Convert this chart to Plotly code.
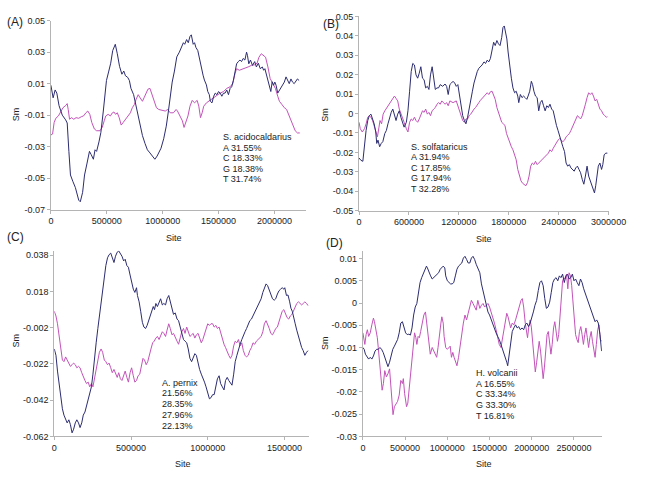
import plotly.graph_objects as go

# ---------------- data (site in kb, Sm value) ----------------
A_NAVY = [(0,0.009),(20,0.001),(38,0.006),(53,0.004),(73,-0.004),(102,-0.010),(132,-0.013),(146,-0.015),
(161,-0.033),(175,-0.048),(196,-0.052),(219,-0.056),(249,-0.064),(263,-0.065),(284,-0.059),(301,-0.048),
(322,-0.041),(345,-0.033),(360,-0.035),(380,-0.038),(395,-0.032),(409,-0.033),(430,-0.027),(447,-0.021),
(468,-0.008),(482,0.004),(497,0.012),(518,0.018),(535,0.023),(553,0.031),(576,0.035),(594,0.029),
(614,0.021),(635,0.016),(652,0.018),(667,0.015),(687,0.014),(702,0.012),(716,0.007),(740,0.003),
(760,-0.004),(790,-0.013),(819,-0.023),(842,-0.028),(863,-0.032),(886,-0.034),(906,-0.036),(930,-0.038),
(950,-0.036),(965,-0.034),(985,-0.031),(1009,-0.025),(1032,-0.017),(1050,-0.008),(1067,0.002),(1085,0.011),
(1105,0.018),(1126,0.027),(1149,0.030),(1167,0.033),(1185,0.036),(1197,0.035),(1214,0.038),(1229,0.036),
(1244,0.040),(1256,0.041),(1273,0.035),(1285,0.036),(1297,0.033),(1314,0.031),(1326,0.027),(1338,0.0216),
(1353,0.0164),(1361,0.0154),(1373,0.0123),(1391,0.0092),(1403,0.005),(1417,0.003),(1426,-0.0012),(1441,-0.0022),
(1456,0.002),(1470,0.004),(1485,0.003),(1500,0.005),(1514,0.004),(1529,0.002),(1544,0.004),(1558,0.004),
(1573,0.006),(1588,0.003),(1603,0.007),(1617,0.008),(1632,0.012),(1647,0.0185),(1661,0.0226),(1676,0.024),
(1691,0.025),(1705,0.024),(1720,0.026),(1735,0.025),(1750,0.030),(1758,0.028),(1770,0.0226),(1785,0.025),
(1803,0.0216),(1823,0.024),(1838,0.0206),(1855,0.023),(1873,0.0195),(1891,0.0206),(1903,0.0185),(1914,0.0195),
(1932,0.0143),(1944,0.012),(1955,0.009),(1967,0.005),(1979,0.0112),(1991,0.009),(2003,0.011),(2014,0.009),
(2029,0.004),(2044,0.006),(2058,0.007),(2073,0.009),(2088,0.011),(2103,0.0143),(2117,0.012),(2132,0.010),
(2147,0.013),(2161,0.011),(2176,0.010),(2191,0.012),(2205,0.013),(2220,0.012)]

A_MAG = [(0,-0.0226),(15,-0.022),(29,-0.0147),(44,-0.012),(67,-0.0105),(88,-0.0074),(108,-0.0053),(132,-0.0039),
(146,-0.0027),(155,-0.0064),(167,-0.0126),(184,-0.0116),(205,-0.0126),(225,-0.0116),(249,-0.012),(272,-0.011),
(292,-0.0105),(313,-0.0085),(330,-0.0074),(348,-0.0095),(366,-0.0147),(389,-0.0188),(409,-0.0199),(439,-0.0199),
(459,-0.0178),(477,-0.0136),(491,-0.0105),(512,-0.0095),(532,-0.0105),(550,-0.0085),(564,-0.008),(579,-0.0095),
(594,-0.0085),(611,-0.0116),(629,-0.0163),(646,-0.0147),(664,-0.013),(687,-0.0105),(711,-0.0085),(728,-0.0053),
(746,-0.0033),(763,0.0002),(781,0.003),(798,0.001),(819,-0.0012),(833,0.001),(851,0.004),(868,0.0065),
(886,0.007),(901,0.004),(921,-0.0002),(944,-0.0053),(965,-0.0064),(994,-0.0068),(1023,-0.0074),(1044,-0.0064),
(1067,-0.0085),(1096,-0.0085),(1120,-0.0064),(1132,-0.0074),(1156,-0.0105),(1176,-0.0136),(1191,-0.0178),(1206,-0.0147),
(1226,-0.0105),(1244,-0.0043),(1264,-0.0006),(1285,-0.0022),(1308,-0.0006),(1323,-0.0043),(1338,-0.0116),(1353,-0.0085),
(1367,-0.0043),(1391,-0.0022),(1411,-0.0012),(1426,-0.0006),(1450,0.001),(1470,0.002),(1491,0.003),(1514,0.004),
(1544,0.005),(1573,0.007),(1603,0.008),(1626,0.010),(1647,0.0164),(1661,0.0195),(1685,0.0185),(1705,0.019),
(1735,0.0195),(1764,0.0206),(1794,0.0216),(1823,0.022),(1844,0.023),(1861,0.0268),(1882,0.029),(1903,0.028),
(1920,0.0268),(1941,0.0206),(1961,0.0133),(1985,0.010),(2008,0.007),(2029,0.002),(2044,-0.0012),(2067,-0.0033),
(2088,-0.0053),(2108,-0.0064),(2132,-0.0105),(2147,-0.0126),(2167,-0.0168),(2185,-0.0199),(2205,-0.0213),(2226,-0.0213)]

B_NAVY = [(0,-0.0229),(23,-0.0241),(46,-0.0246),(66,-0.0154),(85,-0.0087),(105,-0.0036),(124,-0.0011),(143,-0.0003),
(163,-0.0028),(182,-0.0053),(201,-0.0095),(213,-0.0154),(228,-0.0137),(248,-0.0171),(267,-0.0154),(286,-0.0145),
(310,-0.0103),(329,-0.0087),(348,-0.0053),(368,-0.0019),(387,0.0006),(406,0.0023),(426,-0.0003),(445,-0.0036),
(465,-0.0003),(484,0.0014),(503,-0.0019),(523,-0.0045),(542,-0.007),(569,-0.0045),(588,0.0014),(608,0.0115),
(627,0.0216),(646,0.0258),(666,0.025),(685,0.0199),(705,0.0182),(724,0.0208),(743,0.0241),(763,0.0182),
(782,0.0174),(801,0.0132),(821,0.014),(840,0.0124),(859,0.0199),(879,0.0241),(898,0.0191),(917,0.0124),
(937,0.0132),(956,0.0132),(976,0.0149),(1006,0.014),(1034,0.0152),(1053,0.014),(1072,0.0098),(1092,0.0149),
(1111,0.0157),(1130,0.0166),(1150,0.0157),(1169,0.014),(1188,0.0149),(1208,0.0098),(1227,0.0031),(1246,-0.0011),
(1266,-0.0036),(1285,-0.0053),(1305,-0.0019),(1324,0.0031),(1343,0.0073),(1363,0.0115),(1382,0.0157),(1401,0.0191),
(1421,0.0216),(1440,0.0233),(1459,0.0241),(1479,0.025),(1502,0.0266),(1521,0.0258),(1541,0.0275),(1560,0.0266),
(1579,0.0283),(1599,0.0334),(1618,0.0367),(1637,0.035),(1657,0.0376),(1676,0.0359),(1695,0.035),(1715,0.0392),
(1730,0.0443),(1746,0.0451),(1761,0.0418),(1777,0.0384),(1792,0.0317),(1812,0.0233),(1831,0.0182),(1850,0.0132),
(1870,0.0107),(1889,0.0115),(1908,0.009),(1920,0.0056),(1939,0.0098),(1959,0.0082),(1978,0.009),(1997,0.0082),
(2017,0.0073),(2032,0.009),(2052,0.0115),(2071,0.0166),(2086,0.0149),(2102,0.0115),(2121,0.009),(2141,0.0082),
(2160,0.0014),(2179,0.0056),(2199,0.0068),(2218,0.004),(2237,0.0014),(2257,0.004),(2276,0.0031),(2295,0.0048),
(2315,0.0023),(2334,0.0014),(2354,-0.0028),(2373,-0.0061),(2392,-0.0087),(2412,-0.0112),(2431,-0.0145),(2450,-0.0171),
(2470,-0.0196),(2489,-0.0255),(2508,-0.0271),(2528,-0.0263),(2547,-0.028),(2566,-0.0288),(2586,-0.0297),(2605,-0.028),
(2625,-0.0271),(2644,-0.0288),(2663,-0.0305),(2683,-0.0339),(2702,-0.0364),(2721,-0.0322),(2741,-0.0271),(2760,-0.0322),
(2779,-0.0347),(2799,-0.0364),(2818,-0.0397),(2830,-0.0409),(2845,-0.0372),(2860,-0.0305),(2876,-0.0271),(2895,-0.0255),
(2915,-0.0288),(2930,-0.0263),(2946,-0.0213),(2965,-0.0204),(2985,-0.0204)]

B_MAG = [(0,-0.0045),(15,-0.0078),(39,-0.0095),(66,-0.0078),(85,-0.0053),(105,-0.0019),(124,-0.0011),(143,-0.0019),
(163,-0.0036),(182,-0.0061),(201,-0.0087),(221,-0.012),(240,-0.007),(252,-0.0036),(271,-0.0053),(290,-0.0003),
(310,0.0014),(337,0.0031),(356,0.0048),(375,0.0056),(403,0.0073),(426,0.009),(445,0.0078),(465,0.0065),
(484,0.0023),(503,-0.0003),(523,-0.0019),(542,-0.0045),(569,-0.0078),(588,-0.0095),(608,-0.0045),(627,-0.0028),
(646,-0.0036),(666,-0.0019),(685,-0.0036),(705,-0.0045),(724,-0.0028),(743,-0.0011),(763,0.0014),(782,0.0006),
(801,0.0023),(821,-0.0003),(840,0.0006),(859,-0.0011),(879,0.0014),(898,0.0023),(917,0.0031),(937,0.0048),
(956,0.0056),(976,0.0048),(995,0.0065),(1014,0.0056),(1034,0.0048),(1053,0.0056),(1072,0.004),(1092,0.0065),
(1130,0.0056),(1169,0.0065),(1188,0.004),(1208,0.0014),(1227,-0.0019),(1246,-0.0036),(1266,-0.0045),(1285,-0.0028),
(1305,-0.0028),(1324,-0.0011),(1343,-0.0003),(1363,0.0014),(1382,0.0023),(1401,0.0031),(1421,0.0048),(1440,0.0056),
(1459,0.0068),(1479,0.0078),(1502,0.009),(1521,0.0098),(1541,0.0107),(1560,0.0098),(1579,0.0112),(1599,0.0115),
(1618,0.0098),(1637,0.0073),(1657,0.0031),(1676,0.0006),(1695,-0.0019),(1715,-0.0045),(1734,-0.0053),(1754,-0.0061),
(1773,-0.0103),(1792,-0.0129),(1812,-0.0154),(1831,-0.0171),(1850,-0.0187),(1870,-0.0213),(1889,-0.0238),(1908,-0.0288),
(1928,-0.0322),(1947,-0.0347),(1966,-0.0359),(1986,-0.0364),(2005,-0.0372),(2025,-0.0356),(2044,-0.0322),(2063,-0.0271),
(2083,-0.0255),(2102,-0.0263),(2121,-0.0246),(2141,-0.0263),(2160,-0.0255),(2179,-0.0246),(2199,-0.0238),(2218,-0.0229),
(2237,-0.0221),(2257,-0.0213),(2276,-0.0204),(2295,-0.0187),(2315,-0.0196),(2334,-0.0179),(2354,-0.0162),(2373,-0.0145),
(2392,-0.0137),(2412,-0.0129),(2431,-0.0137),(2450,-0.0145),(2470,-0.0137),(2489,-0.012),(2508,-0.0112),(2528,-0.0103),
(2547,-0.0087),(2566,-0.007),(2586,-0.0053),(2605,-0.0028),(2625,-0.0011),(2644,-0.0019),(2663,-0.0028),(2683,-0.0011),
(2702,0.0014),(2721,0.0048),(2741,0.0082),(2760,0.0107),(2779,0.0098),(2799,0.0107),(2818,0.009),(2837,0.0065),
(2857,0.0073),(2876,0.0048),(2895,0.0023),(2915,0.0014),(2934,-0.0003),(2954,-0.0011),(2973,-0.0019),(2985,-0.0016)]

C_NAVY = [(0,-0.0137),(11,-0.0172),(21,-0.0259),(32,-0.0328),(42,-0.0415),(53,-0.0467),(63,-0.0502),(74,-0.0528),
(84,-0.0545),(95,-0.0528),(105,-0.0554),(116,-0.0600),(126,-0.058),(137,-0.0545),(147,-0.0528),(158,-0.0545),
(168,-0.0571),(179,-0.0545),(189,-0.0502),(200,-0.0485),(210,-0.045),(221,-0.0415),(231,-0.038),(242,-0.0346),
(252,-0.0276),(263,-0.0172),(273,-0.0103),(284,-0.0024),(294,0.0045),(305,0.0114),(315,0.0193),(326,0.0262),
(336,0.0323),(347,0.0366),(357,0.0383),(368,0.0392),(378,0.0366),(389,0.034),(399,0.0375),(410,0.0397),
(420,0.0404),(431,0.0392),(441,0.0375),(452,0.0349),(462,0.0358),(473,0.0323),(483,0.0314),(494,0.0271),
(504,0.0227),(515,0.0193),(525,0.0175),(536,0.0201),(542,0.0158),(553,0.0123),(563,0.0071),(574,0.001),
(584,-0.0016),(595,-0.0024),(605,-0.0007),(616,0.0019),(626,0.0054),(637,0.008),(645,0.0097),(653,0.008),
(662,0.0114),(672,0.0097),(683,0.0123),(693,0.014),(704,0.0106),(714,0.0114),(725,0.0106),(735,0.014),
(746,0.0158),(756,0.0123),(767,0.008),(777,0.0054),(788,0.0062),(800,0.0028),(810,0.0019),(821,-0.0016),
(831,-0.0059),(842,-0.0085),(852,-0.0094),(863,-0.0103),(873,-0.0137),(884,-0.0189),(895,-0.0207),(905,-0.0181),
(916,-0.0163),(926,-0.0172),(937,-0.0224),(947,-0.025),(958,-0.0276),(968,-0.0294),(979,-0.032),(989,-0.0346),
(1000,-0.038),(1011,-0.0412),(1021,-0.0406),(1032,-0.0389),(1042,-0.0389),(1053,-0.0346),(1063,-0.0302),(1074,-0.0285),
(1084,-0.0328),(1095,-0.0346),(1106,-0.0363),(1116,-0.0311),(1127,-0.0294),(1137,-0.0311),(1148,-0.0328),(1158,-0.0337),
(1169,-0.0276),(1179,-0.0207),(1190,-0.0172),(1200,-0.0137),(1211,-0.0111),(1222,-0.0085),(1232,-0.0059),(1243,-0.0042),
(1253,-0.0024),(1264,0.0002),(1274,0.0019),(1285,0.0028),(1295,0.0045),(1306,0.0062),(1317,0.0088),(1327,0.0106),
(1338,0.0123),(1348,0.014),(1359,0.0175),(1369,0.0201),(1380,0.0222),(1390,0.0213),(1401,0.0184),(1411,0.0158),
(1422,0.014),(1433,0.0132),(1443,0.014),(1454,0.0166),(1464,0.0184),(1475,0.0193),(1485,0.0201),(1496,0.0193),
(1502,0.0201),(1513,0.0158),(1523,0.0161),(1534,0.0123),(1542,0.0088),(1551,0.0071),(1559,0.0036),(1570,0.0002),
(1580,-0.0033),(1591,-0.0068),(1601,-0.0103),(1612,-0.0129),(1622,-0.0146),(1633,-0.0172),(1644,-0.0155),(1654,-0.0146)]

C_MAG = [(0,0.0071),(11,0.0045),(21,0.0002),(32,-0.0068),(42,-0.0137),(53,-0.0198),(63,-0.0207),(74,-0.0181),
(84,-0.0198),(95,-0.0215),(105,-0.0233),(116,-0.0224),(126,-0.0215),(137,-0.0224),(147,-0.0241),(158,-0.0233),
(168,-0.0241),(179,-0.0268),(189,-0.0294),(200,-0.0311),(210,-0.0328),(221,-0.032),(231,-0.0346),(242,-0.0328),
(252,-0.0346),(263,-0.0294),(273,-0.0241),(284,-0.0189),(294,-0.0155),(305,-0.0137),(315,-0.0155),(326,-0.0198),
(336,-0.0207),(347,-0.0224),(357,-0.0215),(368,-0.0241),(378,-0.0268),(389,-0.025),(399,-0.0276),(410,-0.0294),
(420,-0.0268),(431,-0.0302),(441,-0.0311),(452,-0.0276),(462,-0.0259),(473,-0.0294),(483,-0.032),(494,-0.0268),
(504,-0.0241),(515,-0.0285),(525,-0.032),(536,-0.0311),(546,-0.0285),(557,-0.0276),(567,-0.0233),(578,-0.0189),
(588,-0.0198),(599,-0.0224),(609,-0.0207),(620,-0.0163),(630,-0.0137),(641,-0.0103),(651,-0.0094),(662,-0.0077),
(672,-0.0068),(683,-0.0085),(693,-0.0059),(704,-0.0042),(714,-0.0051),(725,-0.0068),(735,-0.0033),(746,0.0002),
(756,-0.0024),(767,-0.0059),(777,-0.0051),(788,-0.0068),(800,-0.0094),(810,-0.0111),(821,-0.0077),(831,-0.0042),
(842,-0.0024),(852,-0.0051),(863,-0.0016),(873,-0.0042),(884,-0.0068),(895,-0.0059),(905,-0.0051),(916,-0.0077),
(926,-0.0059),(937,-0.0051),(947,-0.0077),(958,-0.0103),(968,-0.0085),(979,-0.0051),(989,-0.0024),(1000,0.0002),
(1011,-0.0007),(1021,0.0002),(1032,0.0002),(1042,-0.0016),(1053,-0.0007),(1063,-0.0024),(1074,-0.0016),(1084,-0.0051),
(1095,-0.0085),(1106,-0.0111),(1116,-0.0129),(1127,-0.0155),(1137,-0.0172),(1148,-0.0189),(1158,-0.0172),(1169,-0.012),
(1179,-0.0094),(1190,-0.0103),(1200,-0.0085),(1211,-0.012),(1222,-0.0103),(1232,-0.0146),(1243,-0.0172),(1253,-0.0181),
(1264,-0.0172),(1274,-0.0146),(1285,-0.0129),(1295,-0.0103),(1306,-0.0111),(1317,-0.0094),(1327,-0.0085),(1338,-0.0077),
(1348,-0.0068),(1359,-0.0042),(1369,0.0002),(1380,0.0019),(1390,0.0002),(1401,-0.0024),(1411,-0.0051),(1422,-0.0059),
(1433,-0.0042),(1443,-0.0024),(1454,-0.0016),(1464,0.001),(1475,0.0045),(1485,0.0071),(1496,0.008),(1506,0.0062),
(1517,0.0036),(1528,0.0028),(1538,0.0045),(1549,0.0054),(1559,0.0071),(1570,0.0097),(1580,0.0114),(1591,0.0123),
(1601,0.0114),(1612,0.0106),(1622,0.0114),(1633,0.0123),(1644,0.0114),(1654,0.0102)]

D_NAVY = [(0,-0.010),(15,-0.0104),(30,-0.0115),(49,-0.0122),(68,-0.0126),(87,-0.0122),(106,-0.0126),(125,-0.0119),
(144,-0.0108),(163,-0.0104),(182,-0.0104),(202,-0.010),(221,-0.0104),(240,-0.0111),(259,-0.0122),(278,-0.0133),
(297,-0.0143),(316,-0.0133),(335,-0.0119),(354,-0.0104),(373,-0.0097),(392,-0.0089),(411,-0.0082),(430,-0.0067),
(449,-0.0045),(468,-0.0042),(487,-0.0056),(506,-0.0067),(525,-0.0071),(544,-0.007),(563,-0.0072),(582,-0.0056),
(601,-0.0027),(620,-0.0009),(639,-0.0001),(658,0.0021),(677,0.0046),(696,0.0057),(715,0.0065),(734,0.0072),
(753,0.0083),(764,0.0079),(783,0.0068),(802,0.0061),(821,0.0054),(840,0.0057),(859,0.0061),(878,0.0065),
(897,0.0068),(916,0.0076),(935,0.0079),(951,0.0083),(970,0.0079),(981,0.0061),(1000,0.005),(1019,0.0046),
(1038,0.0043),(1057,0.0043),(1076,0.0046),(1095,0.0061),(1114,0.0076),(1133,0.0083),(1152,0.0087),(1171,0.009),
(1190,0.0101),(1209,0.0105),(1228,0.0098),(1247,0.009),(1266,0.009),(1285,0.0101),(1304,0.0105),(1323,0.0098),
(1342,0.0087),(1361,0.0079),(1385,0.0068),(1404,0.0043),(1423,0.0028),(1442,0.0013),(1462,-0.0005),(1481,-0.002),
(1500,-0.0027),(1519,-0.0038),(1538,-0.0045),(1558,-0.0056),(1577,-0.0067),(1596,-0.0075),(1615,-0.0082),(1635,-0.0093),
(1654,-0.0104),(1673,-0.0111),(1692,-0.0122),(1704,-0.0133),(1715,-0.0141),(1731,-0.0115),(1750,-0.0086),(1769,-0.0064),
(1788,-0.0056),(1808,-0.0049),(1827,-0.0056),(1846,-0.0053),(1865,-0.006),(1885,-0.0056),(1904,-0.006),(1923,-0.0049),
(1942,-0.0045),(1962,-0.0053),(1981,-0.0045),(2000,-0.0034),(2019,-0.002),(2038,-0.0005),(2058,0.0006),(2077,0.0028),
(2096,0.0046),(2115,0.005),(2135,0.0039),(2154,0.001),(2173,-0.0012),(2192,-0.0009),(2212,0.0002),(2231,0.0024),
(2250,0.0046),(2269,0.0054),(2288,0.0057),(2308,0.005),(2327,0.0061),(2346,0.0057),(2365,0.0065),(2385,0.0046),
(2404,0.0061),(2423,0.0065),(2442,0.0054),(2462,0.0057),(2481,0.0065),(2500,0.005),(2519,0.0054),(2538,0.0046),
(2558,0.0039),(2577,0.0054),(2596,0.0046),(2615,0.0032),(2635,0.0021),(2654,0.001),(2673,-0.0001),(2692,-0.0012),
(2712,-0.0023),(2731,-0.0034),(2750,-0.0042),(2769,-0.0038),(2788,-0.0045),(2808,-0.0071),(2827,-0.0108)]

D_MAG = [(0,-0.0067),(11,-0.0082),(23,-0.0093),(38,-0.0071),(53,-0.006),(68,-0.0075),(87,-0.0067),(106,-0.0049),
(125,-0.0034),(137,-0.0042),(152,-0.0056),(171,-0.0078),(182,-0.010),(202,-0.0144),(213,-0.0174),(228,-0.0196),
(243,-0.0181),(259,-0.0152),(278,-0.0166),(297,-0.0159),(316,-0.0148),(335,-0.0196),(346,-0.0233),(357,-0.0251),
(373,-0.0233),(392,-0.0225),(411,-0.0221),(430,-0.0207),(449,-0.0174),(468,-0.0181),(479,-0.017),(494,-0.0203),
(517,-0.0233),(532,-0.0225),(547,-0.0196),(563,-0.0159),(582,-0.0122),(601,-0.0086),(612,-0.0067),(627,-0.0078),
(639,-0.0093),(654,-0.0075),(669,-0.0078),(684,-0.0064),(703,-0.0049),(722,-0.0027),(741,-0.002),(753,-0.0042),
(768,-0.0071),(783,-0.010),(798,-0.0115),(821,-0.010),(840,-0.0108),(859,-0.0119),(874,-0.0122),(890,-0.010),
(905,-0.0071),(924,-0.0045),(935,-0.0031),(951,-0.0045),(962,-0.0075),(981,-0.010),(1000,-0.0104),(1019,-0.010),
(1034,-0.0097),(1049,-0.0122),(1065,-0.0111),(1080,-0.0122),(1095,-0.0133),(1114,-0.0141),(1133,-0.0122),(1152,-0.0093),
(1171,-0.0071),(1190,-0.0045),(1209,-0.0027),(1228,-0.0038),(1247,-0.0023),(1266,-0.0009),(1285,0.0006),(1304,-0.0001),
(1323,-0.0009),(1342,-0.0016),(1361,0.0006),(1385,-0.0012),(1404,-0.0005),(1423,-0.0001),(1442,-0.0009),(1462,-0.0005),
(1481,-0.0001),(1500,-0.0009),(1519,-0.002),(1538,-0.0031),(1558,-0.0045),(1577,-0.006),(1596,-0.0075),(1615,-0.0093),
(1635,-0.010),(1654,-0.0078),(1673,-0.006),(1692,-0.0034),(1704,-0.0023),(1719,-0.0031),(1735,-0.0049),(1750,-0.0056),
(1769,-0.0045),(1788,-0.0049),(1808,-0.0038),(1827,-0.0023),(1846,-0.0012),(1858,-0.0005),(1873,0.0006),(1888,0.001),
(1904,-0.0009),(1923,-0.0045),(1935,-0.0067),(1950,-0.0078),(1965,-0.0053),(1981,-0.0038),(1996,-0.0056),(2012,-0.0093),
(2027,-0.0133),(2042,-0.0155),(2058,-0.0133),(2073,-0.010),(2088,-0.0086),(2104,-0.0108),(2119,-0.0144),(2135,-0.017),
(2150,-0.0144),(2165,-0.010),(2181,-0.0071),(2196,-0.0064),(2212,-0.0086),(2227,-0.0115),(2242,-0.0093),(2258,-0.0056),
(2273,-0.0042),(2288,-0.0064),(2304,-0.0086),(2319,-0.0071),(2335,-0.0027),(2350,0.0017),(2365,0.005),(2381,0.0057),
(2396,0.0054),(2412,0.0065),(2427,0.0032),(2442,0.0068),(2458,0.0061),(2473,0.0039),(2488,-0.0005),(2504,-0.0049),
(2519,-0.0071),(2535,-0.0082),(2550,-0.0089),(2565,-0.0064),(2581,-0.0053),(2596,-0.0071),(2612,-0.0093),(2627,-0.0071),
(2642,-0.0056),(2658,-0.0078),(2673,-0.010),(2688,-0.0078),(2704,-0.0064),(2719,-0.0086),(2735,-0.0108),(2750,-0.0122),
(2765,-0.0093),(2781,-0.006),(2796,-0.0049),(2812,-0.0082),(2827,-0.0086)]

A_YTICKS = [0.05, 0.03, 0.01, -0.01, -0.03, -0.05, -0.07]
A_YTEXT = ["0.05", "0.03", "0.01", "-0.01", "-0.03", "-0.05", "-0.07"]
A_XTICKS = [0, 500000, 1000000, 1500000, 2000000]
B_YTICKS = [0.05, 0.04, 0.03, 0.02, 0.01, 0, -0.01, -0.02, -0.03, -0.04, -0.05]
B_YTEXT = ["0.05", "0.04", "0.03", "0.02", "0.01", "0", "-0.01", "-0.02", "-0.03", "-0.04", "-0.05"]
B_XTICKS = [0, 600000, 1200000, 1800000, 2400000, 3000000]
C_YTICKS = [0.038, 0.018, -0.002, -0.022, -0.042, -0.062]
C_YTEXT = ["0.038", "0.018", "-0.002", "-0.022", "-0.042", "-0.062"]
C_XTICKS = [0, 500000, 1000000, 1500000]
D_YTICKS = [0.01, 0.005, 0, -0.005, -0.01, -0.015, -0.02, -0.025, -0.03]
D_YTEXT = ["0.01", "0.005", "0", "-0.005", "-0.01", "-0.015", "-0.02", "-0.025", "-0.03"]
D_XTICKS = [0, 500000, 1000000, 1500000, 2000000, 2500000]

A_INFO = ["S. acidocaldarius", "A 31.55%", "C 18.33%", "G 18.38%", "T 31.74%"]
B_INFO = ["S. solfataricus", "A 31.94%", "C 17.85%", "G 17.94%", "T 32.28%"]
C_INFO = ["A. pernix", "21.56%", "28.35%", "27.96%", "22.13%"]
D_INFO = ["H. volcanii", "A 16.55%", "C 33.34%", "G 33.30%", "T 16.81%"]
PANEL_LABELS = ["(A)", "(B)", "(C)", "(D)"]

# ---------------- layout ----------------
W, H = 645, 478
NAVY = "#2c2c70"
MAG = "#c253b9"
FONT = "Liberation Sans, Arial, sans-serif"
TXT = "#222222"
AX = "#b4b4b4"

def fx(px):
    return px / W

def fy(py):
    return 1 - py / H

panels = [
    ("", A_NAVY, A_MAG, (49.5, 313), (16, 209), (0, 2280000), (-0.07, 0.05), A_XTICKS, A_YTICKS, A_YTEXT),
    ("2", B_NAVY, B_MAG, (368, 626), (11.7, 210), (0, 3000000), (-0.05, 0.05), B_XTICKS, B_YTICKS, B_YTEXT),
    ("3", C_NAVY, C_MAG, (53, 316), (251, 440.7), (0, 1658000), (-0.062, 0.0405), C_XTICKS, C_YTICKS, C_YTEXT),
    ("4", D_NAVY, D_MAG, (372, 619), (251.7, 440.7), (0, 2830000), (-0.03, 0.0116), D_XTICKS, D_YTICKS, D_YTEXT),
]

fig = go.Figure()
layout = dict(width=W, height=H, margin=dict(l=0, r=0, t=0, b=0),
              paper_bgcolor="white", plot_bgcolor="white", showlegend=False,
              font=dict(family=FONT, size=9, color=TXT))

for name, navy, mag, xd, yd, xr, yr, xt, yt, ytxt in panels:
    for series, col in ((mag, MAG), (navy, NAVY)):
        fig.add_trace(go.Scatter(x=[s * 1000 for s, _ in series], y=[v for _, v in series],
                                 mode="lines", line=dict(color=col, width=1),
                                 xaxis="x" + name, yaxis="y" + name, hoverinfo="skip"))
    layout["xaxis" + name] = dict(domain=[fx(xd[0]), fx(xd[1])], range=list(xr), anchor="y" + name,
                                  tickvals=xt, ticktext=[str(v) for v in xt], showgrid=False, zeroline=False,
                                  showline=True, linecolor=AX, linewidth=1, ticks="outside", ticklen=3,
                                  tickcolor=AX, tickfont=dict(size=9, color=TXT, family=FONT))
    layout["yaxis" + name] = dict(domain=[fy(yd[1]), fy(yd[0])], range=list(yr), anchor="x" + name,
                                  tickvals=yt, ticktext=ytxt, showgrid=False, zeroline=False,
                                  showline=True, linecolor=AX, linewidth=1, ticks="outside", ticklen=3,
                                  tickcolor=AX, tickfont=dict(size=9, color=TXT, family=FONT))

ann = []
def text(s, px, py, size=9, xanchor="left", angle=0):
    ann.append(dict(text=s, x=fx(px), y=fy(py), xref="paper", yref="paper", showarrow=False,
                    xanchor=xanchor, yanchor="middle", textangle=angle,
                    font=dict(size=size, color=TXT, family=FONT)))

for lab, (px, py) in zip(PANEL_LABELS, [(2, 17), (329, 19), (2, 237), (332, 243)]):
    text(lab, px, py, size=12)
for px, py in [(13, 112), (332, 112), (13, 343), (333, 345)]:
    text("Sm", px, py, xanchor="center", angle=-90)
for px, py in [(177, 238), (497, 239), (186, 469), (497, 469)]:
    text("Site", px, py, xanchor="center")
for lines, px, py0, step in [(A_INFO, 225, 135, 10.7), (B_INFO, 420, 144.7, 10.7),
                             (C_INFO, 162.7, 385.7, 11.0), (D_INFO, 486.7, 375.7, 10.9)]:
    for i, s in enumerate(lines):
        text(s, px, py0 + i * step)

layout["annotations"] = ann
fig.update_layout(**layout)
fig.write_html("out.html", config={"displayModeBar": False},
               post_script="document.body.style.margin='0';document.body.style.overflow='hidden';")
